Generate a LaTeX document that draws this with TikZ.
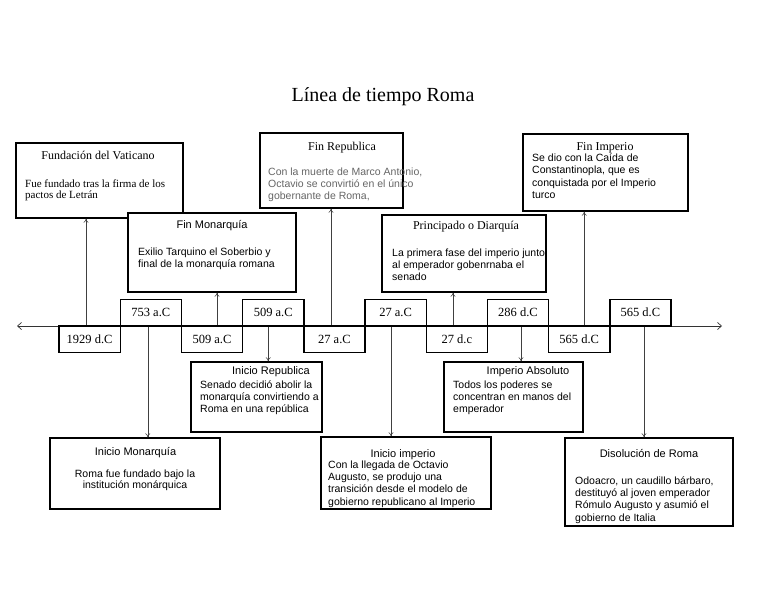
\documentclass[tikz,border=0pt]{standalone}
\usepackage{fontspec}
\setmainfont{Liberation Serif}
\setsansfont{Liberation Sans}
\usetikzlibrary{arrows.meta}

\tikzset{
  evbox/.style={draw, line width=1.4pt, fill=white, inner sep=0pt},
  datebox/.style={draw, line width=1.4pt, inner sep=0pt,
    minimum width=61.2pt, minimum height=26.5pt,
    text height=8pt, text depth=0pt,
    font=\fontsize{12.5}{14}\selectfont},
  link/.style={draw=black!75, line width=0.6pt, -{To[length=4pt,width=5pt]}},
  axis/.style={draw=black!80, line width=0.7pt,
    {Straight Barb[length=4pt,width=7pt]}-{Straight Barb[length=4pt,width=7pt]}},
  ttlrm/.style={anchor=base, inner sep=0pt, font=\fontsize{12}{14}\selectfont},
  ttlsf/.style={anchor=base, inner sep=0pt, font=\sffamily\fontsize{11}{13}\selectfont},
  bodysf/.style={anchor=base west, inner sep=0pt, align=left,
    font=\sffamily\fontsize{10.5}{12.4}\selectfont},
  bodyrm/.style={anchor=base west, inner sep=0pt, align=left,
    font=\fontsize{11}{11}\selectfont}
}

\begin{document}
\begin{tikzpicture}[x=1pt,y=-1pt]
\useasboundingbox (0,0) rectangle (768,594);

%%    TITLE   %%
\node[anchor=base, inner sep=0pt, font=\fontsize{20}{24}\selectfont] (title) at (383,101) {Línea de tiempo Roma};

%%    TIMELINE   %%
\coordinate (west) at (17,326);
\coordinate (east) at (722,326);
\draw[axis] (west) -- (east);

%%    DATES   %%
\node[datebox] (d1929) at (89.6,339.25) {1929 d.C};
\node[datebox] (u753) at (150.8,312.75) {753 a.C};
\node[datebox] (d509) at (212,339.25) {509 a.C};
\node[datebox] (u509) at (273.2,312.75) {509 a.C};
\node[datebox] (d27ac) at (334.4,339.25) {27 a.C};
\node[datebox] (u27ac) at (395.6,312.75) {27 a.C};
\node[datebox] (d27dc) at (456.8,339.25) {27 d.c};
\node[datebox] (u286) at (518,312.75) {286 d.C};
\node[datebox] (d565) at (579.2,339.25) {565 d.C};
\node[datebox] (u565) at (640.4,312.75) {565 d.C};

%%    EVENT BOXES    %%
\node[evbox, minimum width=167pt, minimum height=75pt] (vat) at (99.5,180.5) {};
\node[evbox, minimum width=168pt, minimum height=79pt] (finmon) at (212,252.5) {};
\node[evbox, minimum width=143pt, minimum height=75pt] (finrep) at (331.5,170.5) {};
\node[evbox, minimum width=164pt, minimum height=77pt] (princ) at (464,253.5) {};
\node[evbox, minimum width=165pt, minimum height=77pt] (finimp) at (605.5,172.5) {};
\node[evbox, minimum width=131pt, minimum height=70pt] (inirep) at (256.5,397) {};
\node[evbox, minimum width=139pt, minimum height=70pt] (impabs) at (513.5,397) {};
\node[evbox, minimum width=170pt, minimum height=71pt] (inimon) at (135,473.5) {};
\node[evbox, minimum width=170pt, minimum height=72pt] (iniimp) at (406,473) {};
\node[evbox, minimum width=168pt, minimum height=88pt] (disol) at (649,482) {};

%%    TEXTS (body nodes sit on the baseline of their last line)   %%
\node[ttlrm] (vatt) at (98,159) {Fundación del Vaticano};
\node[bodyrm] (vatb) at (25,198) {Fue fundado tras la firma de los\\pactos de Letrán};

\node[ttlsf] (finmont) at (212,228) {Fin Monarquía};
\node[bodysf] (finmonb) at (138,267.4) {Exilio Tarquino el Soberbio y\\final de la monarquía romana};

\node[ttlrm] (finrept) at (342,150) {Fin Republica};
\node[bodysf, text=black!60] (finrepb) at (268,199.8) {Con la muerte de Marco Antonio,\\Octavio se convirtió en el único\\gobernante de Roma,};

\node[ttlrm] (princt) at (466,229) {Principado o Diarquía};
\node[bodysf] (princb) at (392,280.8) {La primera fase del imperio junto\\al emperador gobenrnaba el\\senado};

\node[ttlrm] (finimpt) at (605,150) {Fin Imperio};
\node[bodysf] (finimpb) at (532,198.7) {Se dio con la Caída de\\Constantinopla, que es\\conquistada por el Imperio\\turco};

\node[ttlsf] (inirept) at (271,374) {Inicio Republica};
\node[bodysf] (inirepb) at (200,412.8) {Senado decidió abolir la\\monarquía convirtiendo a\\Roma en una república};

\node[ttlsf] (impabst) at (528,374) {Imperio Absoluto};
\node[bodysf] (impabsb) at (453,412.8) {Todos los poderes se\\concentran en manos del\\emperador};

\node[ttlsf] (inimont) at (135.5,455.5) {Inicio Monarquía};
\node[bodysf, anchor=base, align=center, font=\sffamily\fontsize{10.5}{11}\selectfont] (inimonb) at (135,488) {Roma fue fundado bajo la\\institución monárquica};

\node[ttlsf] (iniimpt) at (403,457) {Inicio imperio};
\node[bodysf] (iniimpb) at (328,505.2) {Con la llegada de Octavio\\Augusto, se produjo una\\transición desde el modelo de\\gobierno republicano al Imperio};

\node[ttlsf] (disolt) at (649,457) {Disolución de Roma};
\node[bodysf] (disolb) at (575,521.2) {Odoacro, un caudillo bárbaro,\\destituyó al joven emperador\\Rómulo Augusto y asumió el\\gobierno de Italia};

%%    ARROWS    %%
\coordinate (c1) at ([xshift=-3.6pt]d1929.north);
\coordinate (c2) at ([xshift=-3pt]u753.south);
\coordinate (c3) at ([xshift=5pt]d509.north);
\coordinate (c4) at ([xshift=-5pt]u509.south);
\coordinate (c5) at ([xshift=-3.4pt]d27ac.north);
\coordinate (c6) at ([xshift=-4.6pt]u27ac.south);
\coordinate (c7) at ([xshift=-3.8pt]d27dc.north);
\coordinate (c8) at ([xshift=3pt]u286.south);
\coordinate (c9) at ([xshift=5pt]d565.north);
\coordinate (c10) at ([xshift=3.6pt]u565.south);

\draw[link] (c1) -- (c1 |- vat.south);
\draw[link] (c2) -- (c2 |- inimon.north);
\draw[link] (c3) -- (c3 |- finmon.south);
\draw[link] (c4) -- (c4 |- inirep.north);
\draw[link] (c5) -- (c5 |- finrep.south);
\draw[link] (c6) -- (c6 |- iniimp.north);
\draw[link] (c7) -- (c7 |- princ.south);
\draw[link] (c8) -- (c8 |- impabs.north);
\draw[link] (c9) -- (c9 |- finimp.south);
\draw[link] (c10) -- (c10 |- disol.north);

\end{tikzpicture}
\end{document}
